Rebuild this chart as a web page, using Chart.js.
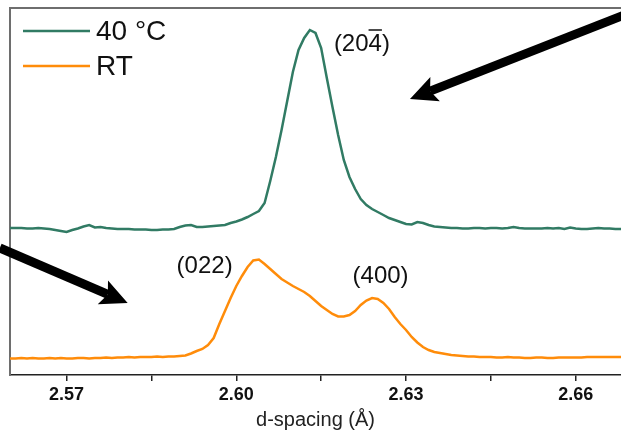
<!DOCTYPE html>
<html>
<head>
<meta charset="utf-8">
<script src="https://cdn.jsdelivr.net/npm/chart.js@4.4.1/dist/chart.umd.min.js"></script>
<style>
html,body{margin:0;padding:0;background:#fff;}
#wrap{width:621px;height:434px;position:relative;}
</style>
</head>
<body>
<div id="wrap"><canvas id="c" width="621" height="434"></canvas></div>
<script>
// d-spacing sample positions (Å)
const dSpacing = [
2.560,2.561,2.562,2.563,2.564,2.565,2.566,2.567,2.568,2.569,
2.570,2.571,2.572,2.573,2.574,2.575,2.576,2.577,2.578,2.579,
2.580,2.581,2.582,2.583,2.584,2.585,2.586,2.587,2.588,2.589,
2.590,2.591,2.592,2.593,2.594,2.595,2.596,2.597,2.598,2.599,
2.600,2.601,2.602,2.603,2.604,2.605,2.606,2.607,2.608,2.609,
2.610,2.611,2.612,2.613,2.614,2.615,2.616,2.617,2.618,2.619,
2.620,2.621,2.622,2.623,2.624,2.625,2.626,2.627,2.628,2.629,
2.630,2.631,2.632,2.633,2.634,2.635,2.636,2.637,2.638,2.639,
2.640,2.641,2.642,2.643,2.644,2.645,2.646,2.647,2.648,2.649,
2.650,2.651,2.652,2.653,2.654,2.655,2.656,2.657,2.658,2.659,
2.660,2.661,2.662,2.663,2.664,2.665,2.666,2.667,2.668];

// intensity (arb. units, stacked offset) – 40 °C
const int40C = [
147,147,147,146.5,146.5,147,146.5,146,145,144,
143,145,146.5,148.5,150,147.5,148,147,146.5,146,
146,146,145.5,145.5,145.5,145,145,145.5,145.5,146,
148,149.5,150,148,148,148.5,149,149.5,150,152,
153.5,155.5,158,161,164,172,194,218,245,274,
303,325,337,345,342,327,297,268,240,215,
198,186,176,170,166,163,160,157,155,153,
151,150.5,153,152,150,148.5,148,147.5,147,147,
146.5,146.5,147,147,146.5,147,147,146.5,147,148,
147,146.5,146.5,146.5,146.5,147,146.5,147,146,147.5,
146.5,146,146,146.5,147,146.5,146.5,146,146];

// intensity (arb. units) – RT
const intRT = [
16.5,16.5,17,16.5,17,16.5,16.5,17,16.5,17,
16.5,16.5,17,17,16.5,17,17,17.5,17,17.5,
17.5,18,17.5,18,18,18,18.5,18,18.5,18.5,
19,19.5,21.5,24,26,30,37,51,64,77,
89,99,108,114.5,115.5,111,106,101,96,92.5,
89,86,83,79,74,69,65,61,58.5,58.5,
60,64,70,74.5,77,76,72,66,58,51,
45,38,32.5,28,25,23,22,21,20,19.5,
19,18.5,18.5,18,18,18,17.5,17.5,18,17.5,
17.5,17,17,17.5,17.5,17,17,17.5,17.5,17.5,
17.5,17.5,18,18,18,18,18,18,18];

const seriesLabels = ['40 °C', 'RT'];
const seriesColors = ['#317b64', '#ff8c0a'];
const tickValues = [2.57, 2.585, 2.60, 2.615, 2.63, 2.645, 2.66];
const tickLabels = ['2.57', '', '2.60', '', '2.63', '', '2.66'];

// peak annotations [text, d, intensity, overline on 4th char]
const peakLabels = [
  ['(204)', 2.6222, 331, true],
  ['(022)', 2.5944, 109, false],
  ['(400)', 2.6255, 99, false]
];
// arrows [tail d, tail I, tip d, tip I]
const arrows = [
  [2.6690, 361, 2.6307, 276],
  [2.5582, 127, 2.5808, 72]
];

const FONT = '"Liberation Sans", Arial, sans-serif';

const decor = {
  id: 'decor',
  afterDatasetsDraw(chart) {
    const ctx = chart.ctx, ca = chart.chartArea;
    const xs = chart.scales.x, ys = chart.scales.y;
    ctx.save();
    // top frame line
    ctx.strokeStyle = '#6e6e6e';
    ctx.lineWidth = 2;
    ctx.beginPath();
    ctx.moveTo(ca.left, ca.top);
    ctx.lineTo(chart.width, ca.top);
    ctx.stroke();

    // legend
    ctx.font = '28px ' + FONT;
    ctx.textBaseline = 'middle';
    ctx.textAlign = 'left';
    const legY = [31, 66];
    chart.data.datasets.forEach((ds, i) => {
      ctx.strokeStyle = ds.borderColor;
      ctx.lineWidth = 2.5;
      ctx.beginPath();
      ctx.moveTo(23, legY[i]);
      ctx.lineTo(90, legY[i]);
      ctx.stroke();
      ctx.fillStyle = '#111';
      ctx.fillText(ds.label, 96, legY[i] + 1);
    });

    // peak labels
    ctx.font = '24px ' + FONT;
    ctx.textAlign = 'center';
    ctx.textBaseline = 'middle';
    ctx.fillStyle = '#111';
    peakLabels.forEach(([t, d, v, bar]) => {
      const px = xs.getPixelForValue(d), py = ys.getPixelForValue(v);
      ctx.fillText(t, px, py);
      if (bar) {
        const w = ctx.measureText(t).width;
        const pre = ctx.measureText(t.slice(0, 3)).width;
        const ch = ctx.measureText(t[3]).width;
        const x0 = px - w / 2 + pre;
        ctx.strokeStyle = '#111';
        ctx.lineWidth = 1.5;
        ctx.beginPath();
        ctx.moveTo(x0, py - 14);
        ctx.lineTo(x0 + ch, py - 14);
        ctx.stroke();
      }
    });

    // arrows
    ctx.fillStyle = '#000';
    ctx.strokeStyle = '#000';
    arrows.forEach(([d1, v1, d2, v2]) => {
      const x1 = xs.getPixelForValue(d1), y1 = ys.getPixelForValue(v1);
      const x2 = xs.getPixelForValue(d2), y2 = ys.getPixelForValue(v2);
      const ang = Math.atan2(y2 - y1, x2 - x1);
      const headL = 27, headW = 13;
      const bx = x2 - headL * Math.cos(ang) * 0.8, by = y2 - headL * Math.sin(ang) * 0.8;
      ctx.lineWidth = 9;
      ctx.lineCap = 'butt';
      ctx.beginPath();
      ctx.moveTo(x1, y1);
      ctx.lineTo(bx, by);
      ctx.stroke();
      const hx = x2 - headL * Math.cos(ang), hy = y2 - headL * Math.sin(ang);
      ctx.beginPath();
      ctx.moveTo(x2, y2);
      ctx.lineTo(hx + headW * Math.sin(ang), hy - headW * Math.cos(ang));
      ctx.lineTo(bx, by);
      ctx.lineTo(hx - headW * Math.sin(ang), hy + headW * Math.cos(ang));
      ctx.closePath();
      ctx.fill();
    });
    ctx.restore();
  }
};

new Chart(document.getElementById('c'), {
  type: 'line',
  data: {
    datasets: [
      { label: seriesLabels[0], data: dSpacing.map((d, i) => ({x: d, y: int40C[i]})),
        borderColor: seriesColors[0], borderWidth: 2.5, pointRadius: 0, tension: 0, fill: false },
      { label: seriesLabels[1], data: dSpacing.map((d, i) => ({x: d, y: intRT[i]})),
        borderColor: seriesColors[1], borderWidth: 2.5, pointRadius: 0, tension: 0, fill: false }
    ]
  },
  options: {
    responsive: false,
    animation: false,
    devicePixelRatio: 1,
    layout: { padding: { top: 8, left: 0, right: 0, bottom: 0 } },
    plugins: { legend: { display: false }, tooltip: { enabled: false } },
    scales: {
      x: {
        type: 'linear', min: 2.56, max: 2.668,
        afterBuildTicks(scale) { scale.ticks = tickValues.map(v => ({value: v})); },
        afterFit(scale) { scale.height = 59; },
        ticks: {
          autoSkip: false, maxRotation: 0, padding: 3,
          color: '#111', font: { family: FONT, size: 18, weight: 'bold' },
          callback(v, i) { return tickLabels[i]; }
        },
        grid: { display: true, drawOnChartArea: false, drawTicks: true, tickLength: 6, color: '#222', lineWidth: 1.5 },
        border: { display: true, color: '#222', width: 1.5 },
        title: { display: true, text: 'd-spacing (Å)', color: '#222', font: { family: FONT, size: 20 }, padding: { top: 2, bottom: 2 } }
      },
      y: {
        type: 'linear', min: 0, max: 367,
        afterFit(scale) { scale.width = 10; },
        ticks: { display: false },
        grid: { display: false },
        border: { display: true, color: '#6e6e6e', width: 2 }
      }
    }
  },
  plugins: [decor]
});
</script>
</body>
</html>
